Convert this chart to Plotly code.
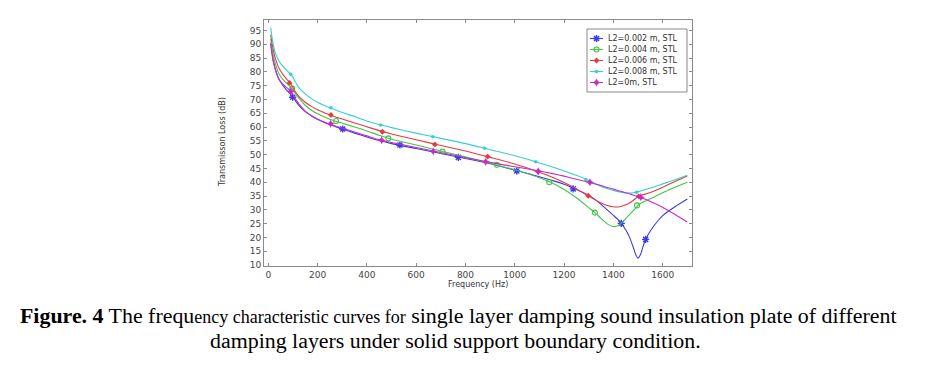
import plotly.graph_objects as go

# ---------------- data ----------------
freq_hz = [10, 15, 20, 30, 40, 50, 60, 75, 90, 100,
           110, 125, 150, 175, 200, 250, 300, 350, 400, 450,
           500, 600, 700, 800, 900, 1000, 1100, 1150, 1200, 1250,
           1300, 1325, 1350, 1375, 1400, 1425, 1450, 1465, 1480, 1490,
           1500, 1510, 1520, 1530, 1550, 1575, 1600, 1650, 1700]

tl_l2_0002 = [90.5, 87, 84, 80.5, 78, 76.3, 75, 73.3, 72, 70.8,
              69.5, 67.8, 65.6, 64.1, 62.8, 60.8, 59.3, 57.8, 56.4, 55.1,
              54.0, 52.2, 50.4, 48.6, 46.7, 44.4, 42.0, 40.7, 39.3, 37.4,
              35.3, 33.8, 32.0, 30.0, 28.0, 25.9, 22.8, 20.2, 16.6, 13.9,
              12.5, 13.8, 16.6, 19.1, 22.3, 25.4, 27.9, 31.1, 33.9]

tl_l2_0004 = [92, 88.5, 86, 82.5, 80, 78.3, 77.2, 75.8, 74.6, 73.5,
              72.2, 70.4, 67.9, 66.1, 64.8, 62.8, 61.4, 60.0, 58.6, 57.0,
              55.6, 53.5, 51.3, 49.2, 46.9, 44.5, 41.6, 39.8, 37.4, 34.4,
              30.8, 29.0, 26.9, 24.9, 23.9, 24.6, 26.8, 28.3, 29.6, 30.6,
              31.6, 32.3, 32.8, 33.2, 34.0, 35.1, 36.2, 38.2, 40.0]

tl_l2_0006 = [93.5, 90.5, 88, 84.5, 82, 80.3, 79, 77.3, 75.8, 74.3,
              72.8, 71, 69, 67.5, 66.3, 64.4, 62.9, 61.5, 60.1, 58.7,
              57.5, 55.4, 53.3, 51.3, 49.0, 46.6, 43.6, 41.9, 39.9, 37.6,
              35.0, 33.7, 32.5, 31.6, 31.1, 31.1, 31.8, 32.5, 33.4, 34.1,
              34.8, 35.2, 35.5, 35.7, 36.3, 37.2, 38.2, 40.3, 42.3]

tl_l2_0008 = [96, 92.5, 90, 86.5, 84.5, 83, 82, 80.5, 79.2, 78,
              76.3, 74.2, 72, 70.3, 69, 67, 65.3, 63.8, 62.2, 60.9,
              59.8, 57.8, 55.9, 54.0, 51.8, 49.6, 47.0, 45.6, 44.1, 42.5,
              40.6, 39.5, 38.5, 37.7, 37.0, 36.5, 36.1, 36.1, 36.2, 36.3,
              36.6, 36.8, 37.1, 37.4, 37.9, 38.6, 39.4, 40.9, 42.5]

tl_l2_0 = [90, 86.5, 84, 80.5, 78, 76.5, 75.5, 74.3, 73.1, 71.8,
           70.2, 68.3, 65.8, 64.1, 62.8, 61.0, 59.6, 58.2, 56.8, 55.4,
           54.4, 52.6, 50.8, 48.9, 47.2, 45.6, 44.1, 43.2, 42.2, 41.1,
           40.0, 39.4, 38.8, 38.1, 37.5, 36.8, 36.2, 35.8, 35.4, 35.1,
           34.8, 34.4, 34.1, 33.8, 33.0, 32.0, 30.9, 28.3, 25.6]

mk_f_0002 = [99, 302, 534, 771, 1008, 1237, 1432, 1531]
mk_v_0002 = [70.8, 59.3, 53.5, 49.0, 44.1, 37.6, 25.1, 19.3]
mk_f_0004 = [97, 275, 487, 707, 927, 1140, 1325, 1496]
mk_v_0004 = [74.0, 62.2, 55.9, 51.1, 46.3, 40.0, 29.0, 31.6]
mk_f_0006 = [86, 254, 463, 676, 890, 1095, 1298, 1503]
mk_v_0006 = [76.0, 64.4, 58.3, 53.7, 49.3, 43.8, 35.1, 34.9]
mk_f_0008 = [91, 254, 456, 667, 878, 1085, 1289, 1494]
mk_v_0008 = [79.1, 67.0, 60.7, 56.5, 52.3, 47.4, 40.9, 36.4]
mk_f_0 = [91, 253, 460, 669, 882, 1095, 1305, 1511]
mk_v_0 = [72.9, 61.2, 55.2, 51.2, 47.4, 44.0, 40.0, 34.6]

series_names = ["L2=0.002 m, STL", "L2=0.004 m, STL", "L2=0.006 m, STL",
                "L2=0.008 m, STL", "L2=0m, STL"]
x_ticks = [0, 200, 400, 600, 800, 1000, 1200, 1400, 1600]
y_ticks = [10, 15, 20, 25, 30, 35, 40, 45, 50, 55, 60, 65, 70, 75, 80, 85, 90, 95]

x_title = "Frequency (Hz)"
y_title = "Transmisson Loss (dB)"
caption_1 = ("<b>Figure. 4</b> The frequ<span style='font-size:18px'>ency characteristic curves for</span>"
             " single layer damping sound insulation plate of different")
caption_2 = "damping layers under solid support boundary condition."

# ---------------- styling ----------------
W, H = 936, 388
PL, PR, PT, PB = 264, 692, 20, 266   # plot-area pixel box


def px_x(p):
    return (p - PL) / (PR - PL)


def px_y(p):
    return (PB - p) / (PB - PT)


styles = [
    dict(color="#3b3be6", symbol="asterisk-open", size=6, lw=1.4),
    dict(color="#45c445", symbol="circle-open", size=5, lw=1.1),
    dict(color="#e23c3c", symbol="diamond", size=4.5, lw=0),
    dict(color="#33d0d0", symbol="circle", size=3.5, lw=0),
    dict(color="#c42ec4", symbol="star-diamond", size=6, lw=0),
]
values = [tl_l2_0002, tl_l2_0004, tl_l2_0006, tl_l2_0008, tl_l2_0]
markers = [(mk_f_0002, mk_v_0002), (mk_f_0004, mk_v_0004), (mk_f_0006, mk_v_0006),
           (mk_f_0008, mk_v_0008), (mk_f_0, mk_v_0)]

fig = go.Figure()
for name, vals, (mf, mv), st in zip(series_names, values, markers, styles):
    fig.add_trace(go.Scatter(
        x=freq_hz, y=vals, mode="lines", name=name, showlegend=False,
        line=dict(color=st["color"], width=1.1, shape="spline", smoothing=0.6),
        hoverinfo="skip"))
    fig.add_trace(go.Scatter(
        x=mf, y=mv, mode="markers", name=name, showlegend=False,
        marker=dict(symbol=st["symbol"], size=st["size"], color=st["color"],
                    line=dict(color=st["color"], width=st["lw"]))))

# legend drawn on a pixel-unit overlay axis
leg_x0, leg_x1, leg_y0, leg_y1 = 587, 687, 29, 92
leg_rows = [38.5, 49.5, 60.5, 71.5, 82.5]
for name, st, ry in zip(series_names, styles, leg_rows):
    fig.add_trace(go.Scatter(
        x=[590, 603], y=[ry, ry], mode="lines", xaxis="x2", yaxis="y2",
        showlegend=False, hoverinfo="skip",
        line=dict(color=st["color"], width=1.1)))
    fig.add_trace(go.Scatter(
        x=[596.5], y=[ry], mode="markers", xaxis="x2", yaxis="y2",
        showlegend=False, hoverinfo="skip",
        marker=dict(symbol=st["symbol"], size=st["size"], color=st["color"],
                    line=dict(color=st["color"], width=st["lw"]))))

shapes = [dict(type="rect", xref="x2", yref="y2", x0=leg_x0, x1=leg_x1,
               y0=leg_y0, y1=leg_y1, line=dict(color="#8a8a8a", width=1),
               fillcolor="white", layer="below")]

ann = []
for name, ry in zip(series_names, leg_rows):
    ann.append(dict(xref="x2", yref="y2", x=606, y=ry, text=name, showarrow=False,
                    xanchor="left", yanchor="middle",
                    font=dict(family="DejaVu Sans", size=8, color="#333")))
ann.append(dict(xref="paper", yref="paper", x=px_x(478), y=px_y(284), text=x_title,
                showarrow=False, xanchor="center", yanchor="middle",
                font=dict(family="DejaVu Sans", size=8, color="#333")))
ann.append(dict(xref="paper", yref="paper", x=px_x(222), y=px_y(142), text=y_title,
                showarrow=False, textangle=-90, xanchor="center", yanchor="middle",
                font=dict(family="DejaVu Sans", size=8, color="#333")))
ann.append(dict(xref="paper", yref="paper", x=px_x(458), y=px_y(315), text=caption_1,
                showarrow=False, xanchor="center", yanchor="middle",
                font=dict(family="Liberation Serif", size=21.9, color="black")))
ann.append(dict(xref="paper", yref="paper", x=px_x(455), y=px_y(340), text=caption_2,
                showarrow=False, xanchor="center", yanchor="middle",
                font=dict(family="Liberation Serif", size=21.9, color="black")))

axis_common = dict(showgrid=False, zeroline=False, showline=True, linecolor="#8a8a8a",
                   linewidth=1, mirror="ticks", ticks="inside", ticklen=3,
                   tickcolor="#8a8a8a", tickwidth=1,
                   tickfont=dict(family="DejaVu Sans", size=9, color="#444"))

fig.update_layout(
    width=W, height=H, paper_bgcolor="white", plot_bgcolor="white",
    margin=dict(l=PL, r=W - PR, t=PT, b=H - PB, pad=0),
    showlegend=False,
    xaxis=dict(range=[-17.4, 1719], tickvals=x_ticks, **axis_common),
    yaxis=dict(range=[9.64, 98.8], tickvals=y_ticks, **axis_common),
    xaxis2=dict(range=[PL, PR], overlaying="x", anchor="y2", visible=False, fixedrange=True),
    yaxis2=dict(range=[PB, PT], overlaying="y", anchor="x2", visible=False, fixedrange=True),
    shapes=shapes, annotations=ann,
)

fig.write_html("out.html", config={"displayModeBar": False},
               post_script="document.body.style.margin='0';")
